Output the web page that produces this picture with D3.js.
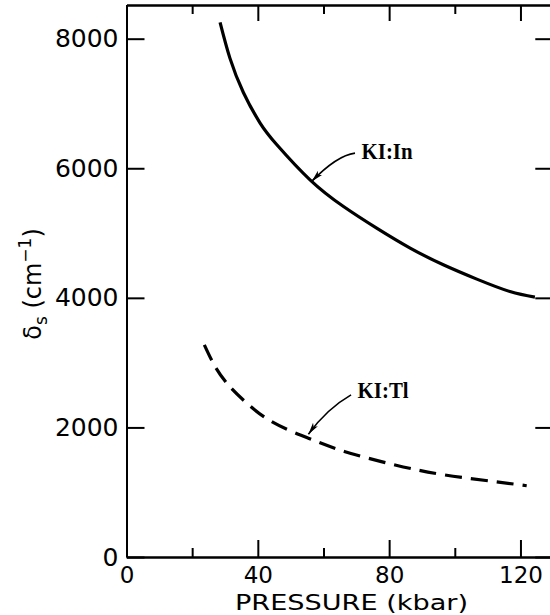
<!DOCTYPE html>
<html>
<head>
<meta charset="utf-8">
<script src="https://cdn.jsdelivr.net/npm/d3@7"></script>
<style>
  body { margin: 0; background: #fff; }
  svg { display: block; }
  .tick text { font-family: "DejaVu Sans", sans-serif; font-size: 25px; fill: #000; }
  .x-axis .tick text { font-size: 23px; }
</style>
</head>
<body>
<div id="chart"></div>
<script>
// KI:In curve (solid)
var inPressure = [28.5, 31.5, 35.6, 40.7, 45.8, 55.9, 66.1, 76.2, 86.4, 96.5, 106.7, 116.8, 124.4];
var inDelta    = [8252, 7700, 7170, 6698, 6363, 5822, 5410, 5076, 4768, 4510, 4289, 4097, 4011];

// KI:Tl curve (dashed)
var tlPressure = [23.7, 27.0, 31.0, 36.1, 44.2, 55.4, 66.6, 81.8, 97.0, 112.3, 121.9];
var tlDelta    = [3274, 2939, 2656, 2399, 2090, 1834, 1626, 1421, 1266, 1163, 1100];

var xMajor = [0, 40, 80, 120];
var xMinor = [20, 60, 100];
var yMajor = [0, 2000, 4000, 6000, 8000];

var width = 550, height = 615;
var margin = { top: 5, left: 126.5, bottom: 58 };

var x = d3.scaleLinear().domain([0, 130]).range([margin.left, margin.left + 130 * 3.283]);
var y = d3.scaleLinear().domain([0, 8520]).range([height - margin.bottom, margin.top]);

var svg = d3.select("#chart").append("svg")
    .attr("width", width)
    .attr("height", height);

function styleAxis(g) {
    g.select(".domain").attr("stroke", "#000").attr("stroke-width", 2);
    g.selectAll(".tick line").attr("stroke", "#000").attr("stroke-width", 2);
}

// bottom axis
svg.append("g")
    .attr("class", "x-axis")
    .attr("transform", "translate(0," + y(0) + ")")
    .call(d3.axisBottom(x).tickValues(xMajor).tickSize(-17).tickSizeOuter(0).tickPadding(10).tickFormat(d3.format("d")))
    .call(styleAxis);
svg.append("g")
    .attr("transform", "translate(0," + y(0) + ")")
    .call(d3.axisBottom(x).tickValues(xMinor).tickSize(-9).tickSizeOuter(0).tickFormat(""))
    .call(styleAxis);

// top axis
svg.append("g")
    .attr("transform", "translate(0," + y(8520) + ")")
    .call(d3.axisTop(x).tickValues(xMajor).tickSize(-16).tickSizeOuter(0).tickFormat(""))
    .call(styleAxis);
svg.append("g")
    .attr("transform", "translate(0," + y(8520) + ")")
    .call(d3.axisTop(x).tickValues(xMinor).tickSize(-9).tickSizeOuter(0).tickFormat(""))
    .call(styleAxis);

// left axis
svg.append("g")
    .attr("transform", "translate(" + x(0) + ",0)")
    .call(d3.axisLeft(y).tickValues(yMajor).tickSize(-18).tickSizeOuter(0).tickPadding(8).tickFormat(d3.format("d")))
    .call(styleAxis);

// right axis
svg.append("g")
    .attr("transform", "translate(" + x(130) + ",0)")
    .call(d3.axisRight(y).tickValues(yMajor).tickSize(-18).tickSizeOuter(0).tickFormat(""))
    .call(styleAxis);

// curves
var line = d3.line()
    .x(function (d) { return x(d[0]); })
    .y(function (d) { return y(d[1]); })
    .curve(d3.curveNatural);

svg.append("path")
    .datum(d3.zip(inPressure, inDelta))
    .attr("d", line)
    .attr("fill", "none")
    .attr("stroke", "#000")
    .attr("stroke-width", 3.2);

svg.append("path")
    .datum(d3.zip(tlPressure, tlDelta))
    .attr("d", line)
    .attr("fill", "none")
    .attr("stroke", "#000")
    .attr("stroke-width", 3.2)
    .attr("stroke-dasharray", "17,9");

// arrowhead
svg.append("defs").append("marker")
    .attr("id", "arrow")
    .attr("viewBox", "0 0 12 6")
    .attr("refX", 12).attr("refY", 3)
    .attr("markerWidth", 12).attr("markerHeight", 6)
    .attr("markerUnits", "userSpaceOnUse")
    .attr("orient", "auto")
    .append("path")
    .attr("d", "M0,0 L12,3 L0,6 L3,3 Z")
    .attr("fill", "#000");

// annotations, in data units: label, text pos, arrow start, control, tip
var notes = [
    { label: "KI:In", tx: 71.6, ty: 6142, from: [69.6, 6234], ctrl: [64.1, 6198], to: [56.4, 5797] },
    { label: "KI:Tl", tx: 70.4, ty: 2451, from: [68.4, 2502], ctrl: [61.1, 2290], to: [55.4, 1895] }
];

notes.forEach(function (n) {
    var p = d3.path();
    p.moveTo(x(n.from[0]), y(n.from[1]));
    p.quadraticCurveTo(x(n.ctrl[0]), y(n.ctrl[1]), x(n.to[0]), y(n.to[1]));
    svg.append("path")
        .attr("d", p.toString())
        .attr("fill", "none")
        .attr("stroke", "#000")
        .attr("stroke-width", 1.6)
        .attr("marker-end", "url(#arrow)");
    svg.append("text")
        .attr("x", x(n.tx))
        .attr("y", y(n.ty))
        .attr("textLength", 51)
        .attr("lengthAdjust", "spacingAndGlyphs")
        .style("font", "bold 24px 'Liberation Serif', serif")
        .text(n.label);
});

// x axis title
svg.append("text")
    .attr("x", 351.5)
    .attr("y", 609.5)
    .attr("text-anchor", "middle")
    .attr("textLength", 233)
    .attr("lengthAdjust", "spacingAndGlyphs")
    .style("font", "21px 'DejaVu Sans', sans-serif")
    .text("PRESSURE (kbar)");

// y axis title
var yt = svg.append("text")
    .attr("transform", "translate(41,284) rotate(-90)")
    .attr("text-anchor", "middle")
    .style("font", "24px 'DejaVu Sans', sans-serif");
yt.append("tspan").text("δ");
yt.append("tspan").attr("dy", 6).style("font-size", "17px").text("s");
yt.append("tspan").attr("dy", -6).text(" (cm");
yt.append("tspan").attr("dy", -10).style("font-size", "17px").text("−1");
yt.append("tspan").attr("dy", 10).text(")");
</script>
</body>
</html>
